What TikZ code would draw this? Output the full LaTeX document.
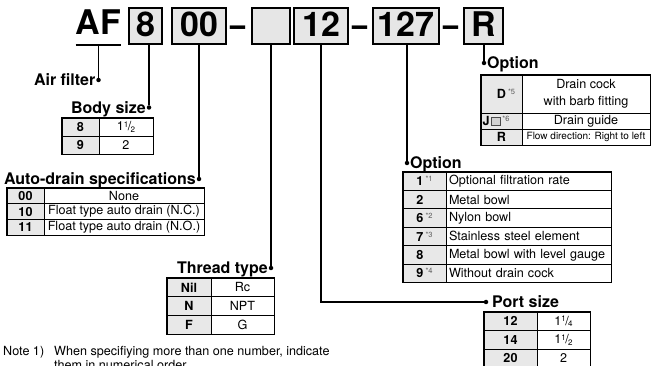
\documentclass[tikz,border=0pt]{standalone}
\usepackage{fontspec}
\setmainfont{TeX Gyre Heros}
\usepackage{xcolor}
\usepackage{graphicx}
\usetikzlibrary{calc,positioning}
\definecolor{boxgray}{HTML}{E6E6E6}
\definecolor{keybg}{HTML}{E8E8E8}
\definecolor{notegray}{HTML}{5A5A5A}

\newcommand\ftn[1]{\raisebox{4pt}{\color{notegray}\fontsize{7.5}{8}\selectfont\mdseries *#1}}
\newcommand\optkey[2]{#1\,\edef\optn{#2}\ifx\optn\empty\hspace*{7.1pt}\else\ftn{#2}\fi}
\newcommand\frc[2]{\raisebox{3.5pt}{\fontsize{8}{8}\selectfont #1}\kern-0.6pt/\kern-0.6pt\raisebox{-1.5pt}{\fontsize{8}{8}\selectfont #2}}
\newcommand\sqbox{\kern1.5pt{\setlength\fboxsep{0pt}\setlength\fboxrule{0.6pt}\fcolorbox{black!70}{gray!35}{\rule{0pt}{8pt}\hspace{8pt}}}}
\newcommand\codedash{\scalebox{0.8}[1]{–}}

\begin{document}
\begin{tikzpicture}[x=1pt, y=-1pt,
  codebox/.style={draw, fill=boxgray, line width=1.3pt, minimum height=36pt, inner sep=0, text depth=3.5pt, font=\fontsize{34}{34}\selectfont\bfseries},
  codetxt/.style={inner sep=0, font=\fontsize{34}{34}\selectfont\bfseries},
  hdr/.style={inner sep=0, font=\fontsize{16}{16}\selectfont\bfseries},
  keycell/.style={draw, line width=0.6pt, fill=keybg, inner sep=0, font=\fontsize{12.6}{13}\selectfont\bfseries},
  valcell/.style={draw, line width=0.6pt, fill=white, inner sep=0, font=\fontsize{12.6}{13}\selectfont, align=center},
  notetxt/.style={inner sep=0, font=\fontsize{12.6}{13}\selectfont},
  frame/.style={draw, line width=1.3pt},
  lead/.style={line width=1.3pt},
  dot/.style={circle, fill, inner sep=0, minimum size=4.5pt}
]
\useasboundingbox (0,0) rectangle (651,366);
% ---- model code
\node[codetxt, anchor=base] (af) at (98.5,35) {AF};
\node[codebox, minimum width=33pt] (b8) at (145.5,26) {8};
\node[codebox, minimum width=54pt] (b00) at (199,26) {00};
\node[codetxt, anchor=base] (dash1) at (238.5,36.5) {\codedash};
\node[codebox, minimum width=38pt] (bthr) at (271,26) {};
\node[codebox, minimum width=54pt] (bport) at (321,26) {12};
\node[codetxt, anchor=base] (dash2) at (360.5,36.5) {\codedash};
\node[codebox, minimum width=66pt] (bopt) at (406,26) {127};
\node[codetxt, anchor=base] (dash3) at (451.5,36.5) {\codedash};
\node[codebox, minimum width=39pt] (br) at (483.5,26) {R};
\draw[lead] ([yshift=-10pt]af.base west) -- ([yshift=-10pt]af.base east);
% ---- dots
\node[dot] (dotair) at (98.5,80) {};
\node[dot] (dotbody) at (149,107.5) {};
\node[dot] (dotauto) at (199,179) {};
\node[dot] (dotthread) at (271,268) {};
\node[dot] (dotopt) at (407,163) {};
\node[dot] (dotr) at (484,63) {};
\node[dot] (dotport) at (486,302) {};
% ---- leads
\draw[lead] ([yshift=-10pt]af.base) -- (dotair);
\draw[lead] (b8.south -| dotbody) -- (dotbody);
\draw[lead] (b00.south) -- (dotauto);
\draw[lead] (bthr.south) -- (dotthread);
\draw[lead] (bopt.south -| dotopt) -- (dotopt);
\draw[lead] (br.south -| dotr) -- (dotr);
\draw[lead] (bport.south) |- (dotport);
% ---- labels
\node[hdr, anchor=base east] (lblair) at ([xshift=-3pt, yshift=-5.8pt]dotair) {Air filter};
\node[hdr, anchor=base east] (lblbody) at ([xshift=-3pt, yshift=-5.8pt]dotbody) {Body size};
\node[hdr, anchor=base east] (lblauto) at ([xshift=-3pt, yshift=-5.8pt]dotauto) {Auto-drain specifications};
\node[hdr, anchor=base east] (lblthread) at ([xshift=-3pt, yshift=-5.8pt]dotthread) {Thread type};
\node[hdr, anchor=base west] (lblopt) at ([xshift=3pt, yshift=-5.8pt]dotopt) {Option};
\node[hdr, anchor=base west] (lblr) at ([xshift=3pt, yshift=-5.8pt]dotr) {Option};
\node[hdr, anchor=base west] (lblport) at ([xshift=6pt, yshift=-5.8pt]dotport) {Port size};
% ---- body size table
\foreach \k/\v [count=\i] in {8/{1\frc{1}{2}}, 9/2} {
  \node[keycell, minimum width=37pt, minimum height=18pt] (bsk\i) at (80.5,{118+18*(\i-0.5)}) {\k};
  \node[valcell, minimum width=54pt, minimum height=18pt] (bsv\i) at (126,{118+18*(\i-0.5)}) {\v};
}
\draw[frame] (bsk1.north west) rectangle (bsv2.south east);
% ---- auto-drain table
\foreach \k/\v [count=\i] in {00/None, 10/Float type auto drain (N.C.), 11/Float type auto drain (N.O.)} {
  \node[keycell, minimum width=37pt, minimum height=15.7pt] (adk\i) at (25.5,{188+15.7*(\i-0.5)}) {\k};
  \node[valcell, minimum width=160pt, minimum height=15.7pt] (adv\i) at (124,{188+15.7*(\i-0.5)}) {\v};
}
\draw[frame] (adk1.north west) rectangle (adv3.south east);
% ---- thread type table
\foreach \k/\v [count=\i] in {Nil/Rc, N/NPT, F/G} {
  \node[keycell, minimum width=44pt, minimum height=18.7pt] (ttk\i) at (189,{278+18.7*(\i-0.5)}) {\k};
  \node[valcell, minimum width=63pt, minimum height=18.7pt] (ttv\i) at (242.5,{278+18.7*(\i-0.5)}) {\v};
}
\draw[frame] (ttk1.north west) rectangle (ttv3.south east);
% ---- option table
\foreach \k/\n/\v [count=\i] in {1/1/Optional filtration rate, 2//Metal bowl, 6/2/Nylon bowl, 7/3/Stainless steel element, 8//Metal bowl with level gauge, 9/4/Without drain cock} {
  \node[keycell, minimum width=43pt, minimum height=18.4pt] (opk\i) at (424.5,{172+18.4*(\i-0.5)}) {\optkey{\k}{\n}};
  \node[valcell, minimum width=165pt, minimum height=18.4pt, text width=159pt, align=left] (opv\i) at (528.5,{172+18.4*(\i-0.5)}) {\v};
}
\draw[frame] (opk1.north west) rectangle (opv6.south east);
% ---- port size table
\foreach \k/\v [count=\i] in {12/{1\frc{1}{4}}, 14/{1\frc{1}{2}}, 20/2} {
  \node[keycell, minimum width=53pt, minimum height=18.5pt] (psk\i) at (510.5,{312+18.5*(\i-0.5)}) {\k};
  \node[valcell, minimum width=53pt, minimum height=18.5pt] (psv\i) at (563.5,{312+18.5*(\i-0.5)}) {\v};
}
\draw[frame] (psk1.north west) rectangle (psv3.south east);
% ---- option R table
\node[keycell, minimum width=41pt, minimum height=38pt] (ork1) at (501.5,94) {\hspace*{9pt}D\,\ftn{5}};
\node[valcell, minimum width=128pt, minimum height=38pt, font=\fontsize{12.6}{16.5}\selectfont] (orv1) at (586,94) {Drain cock\\with barb fitting};
\node[keycell, minimum width=41pt, minimum height=16pt] (ork2) at (501.5,121) {J\sqbox\,\ftn{6}\hspace*{11pt}};
\node[valcell, minimum width=128pt, minimum height=16pt] (orv2) at (586,121) {Drain guide};
\node[keycell, minimum width=41pt, minimum height=16pt] (ork3) at (501.5,137) {R};
\node[valcell, minimum width=128pt, minimum height=16pt, font=\fontsize{10}{11}\selectfont] (orv3) at (586,137) {Flow direction: Right to left};
\draw[frame] (ork1.north west) rectangle (orv3.south east);
% ---- note
\node[notetxt, anchor=base west] (note0) at (3,355) {Note 1)};
\node[notetxt, anchor=base west] (note1) at (54,355) {When specifiying more than one number, indicate};
\node[notetxt, anchor=base west] (note2) at ([yshift=-14pt]note1.base west) {them in numerical order.};
\end{tikzpicture}
\end{document}
